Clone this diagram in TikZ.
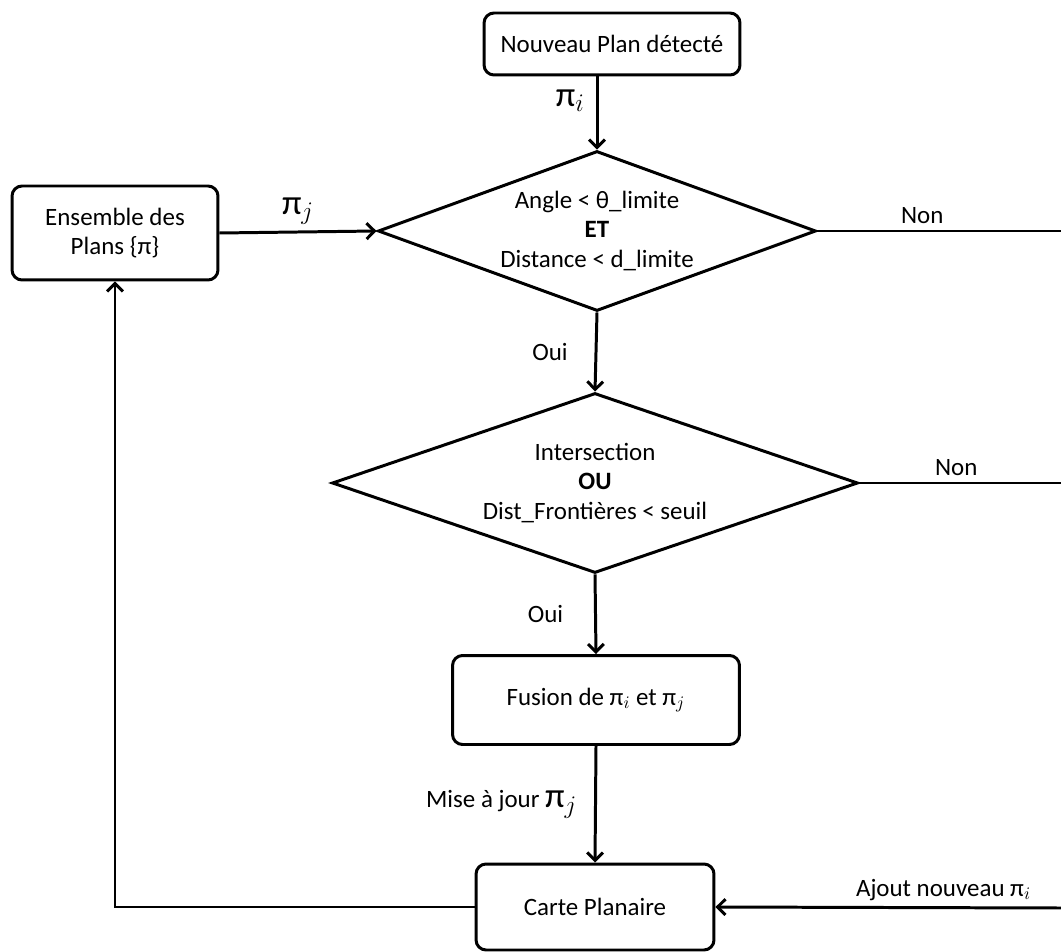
\documentclass[tikz,border=0pt]{standalone}
\usepackage{fontspec}
\setmainfont{Carlito}
\usepackage{tikz}
\usetikzlibrary{arrows.meta,positioning,shapes.geometric,calc}
\definecolor{ink}{HTML}{000000}
\newcommand{\bigpi}[1]{{\fontsize{20}{22}\selectfont π$_{#1}$}}

\begin{document}
\begin{tikzpicture}[x=0.02cm,y=-0.02cm,
    font=\fontsize{14.2}{16.8}\selectfont,
    line width=1.7pt,
    >={Straight Barb[length=4.5pt,width=9pt]},
    stepbox/.style={draw=ink,rounded corners=0.2cm,align=center,inner sep=2pt},
    testbox/.style={draw=ink,diamond,aspect=2.8,inner sep=0pt,align=center}]
    \path[use as bounding box] (0,0) rectangle (1061,952);
    % start
    \node[stepbox,minimum width=5.12cm,minimum height=1.24cm] (nouv) at (612,44)
      {Nouveau Plan détecté};
    % set of planes
    \node[stepbox,minimum width=4.12cm,minimum height=1.88cm] (ens) at (115,233)
      {Ensemble des\\Plans \{π\}};
    % first test
    \node[testbox,minimum width=8.76cm,minimum height=3.2cm] (angle) at (597,231)
      {Angle < θ\_limite\\\textbf{ET}\\Distance < d\_limite};
    % second test
    \node[testbox,minimum width=10.52cm,minimum height=3.6cm] (inter) at (595,483)
      {Intersection\\\textbf{OU}\\Dist\_Frontières < seuil};
    % merge
    \node[stepbox,minimum width=5.74cm,minimum height=1.78cm] (fusion) at (596,700)
      {Fusion de π$_i$ et π$_j$};
    % map
    \node[stepbox,minimum width=4.76cm,minimum height=1.72cm] (carte) at (595,907)
      {Carte Planaire};
    % free ends on the right border
    \coordinate (nonA) at (1061,231);
    \coordinate (nonB) at (1061,483);
    \coordinate (ajout) at (1061,908);
    % connectors
    \draw[->] (nouv.south -| angle.north) -- node[left=0.1cm,pos=0.33] {\bigpi{i}} (angle.north);
    \draw[->] (ens.east) -- node[above] {\bigpi{j}} (angle.west);
    \draw (angle.east) -- node[above,pos=0.43] {Non} (nonA);
    \draw[->] (angle.south) -- node[left=0.42cm] {Oui} (inter.north);
    \draw (inter.east) -- node[above,pos=0.48] {Non} (nonB);
    \draw[->] (inter.south) -- node[left=0.5cm] {Oui} (fusion.north);
    \draw[->] (fusion.south) -- node[left=0.22cm] {Mise à jour \bigpi{j}} (carte.north);
    \draw[->] (ajout) -- node[above,pos=0.34] {Ajout nouveau π$_i$} (carte.east);
    \draw[->] (carte.west) -| (ens.south);
  \end{tikzpicture}
\end{document}
